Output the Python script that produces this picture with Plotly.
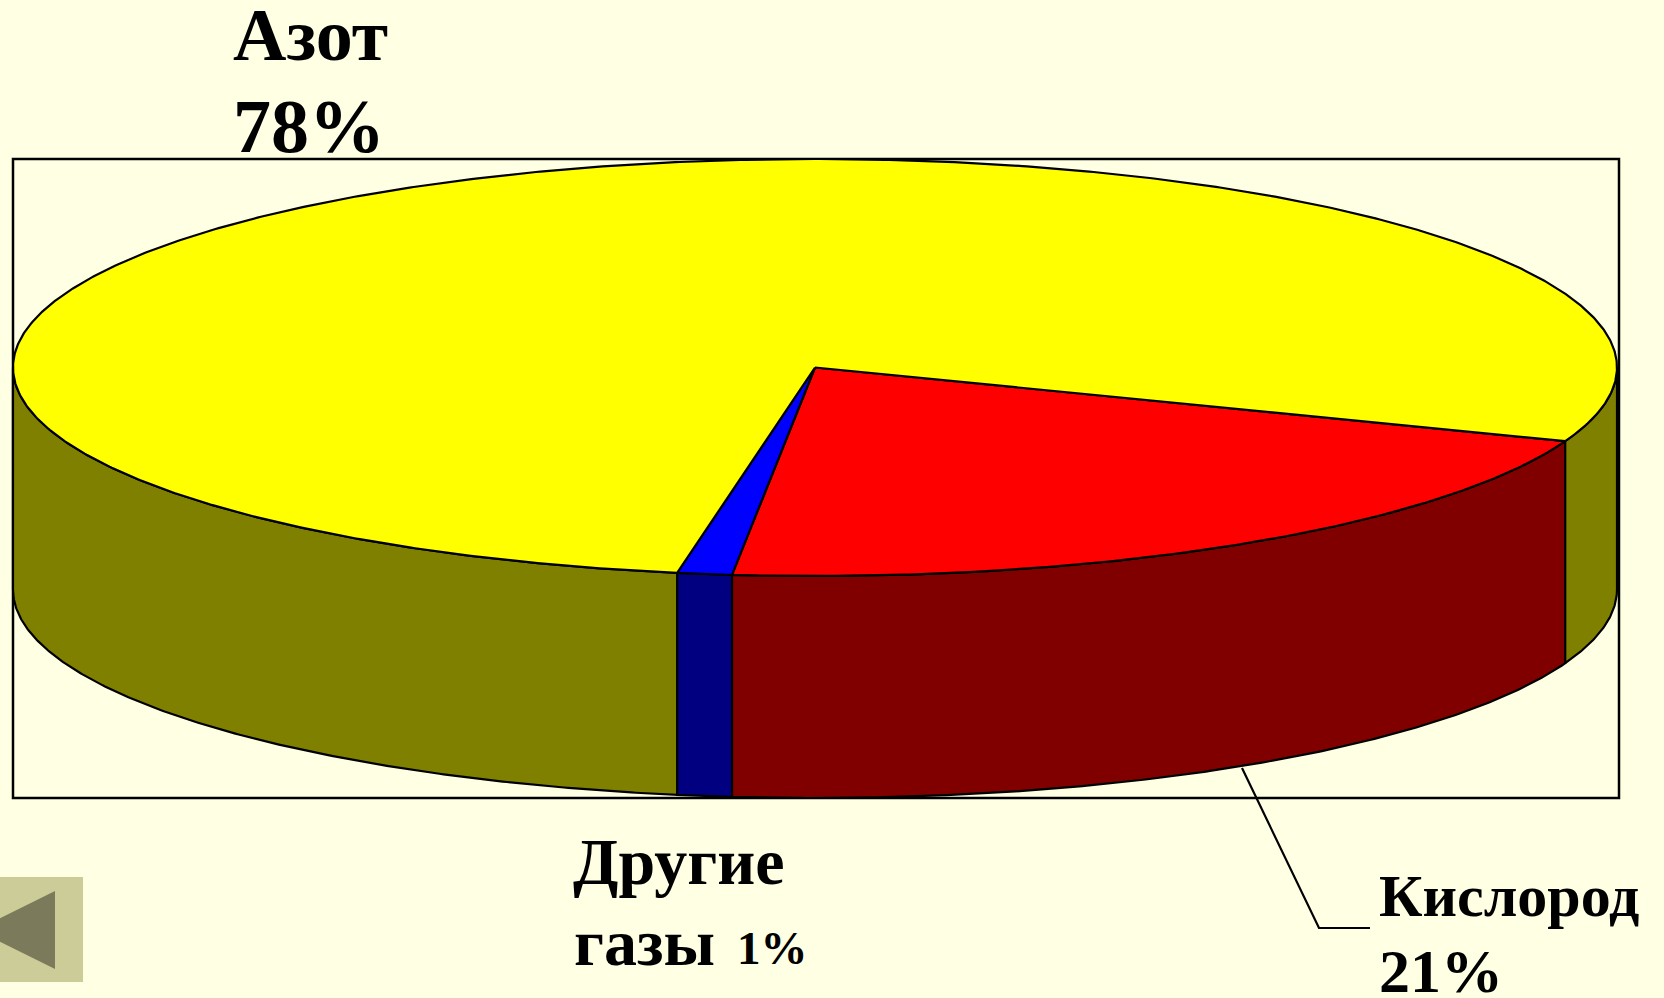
import numpy as np
import plotly.graph_objects as go

# --- data ---
categories = ["Кислород", "Другие газы", "Азот"]
values = [20.9, 1.1, 78.0]
top_colors = ["#FF0000", "#0000FF", "#FFFF00"]
side_colors = ["#800000", "#000080", "#808000"]
start_angle = 20.7

# --- geometry of the tilted pie (page pixels) ---
W, H = 1664, 998
BG = "#FFFFE3"
CX, CY, RX, RY, DEPTH = 815, 367.5, 802, 208.5, 222
SERIF = "Liberation Serif"
EDGE = 2.2


def rim(a0, a1, dy=0.0):
    t = np.radians(np.linspace(a0, a1, max(2, int(abs(a1 - a0) * 3) + 1)))
    return CX + RX * np.cos(t), CY + RY * np.sin(t) + dy


fig = go.Figure()

# wedge spans, clockwise on screen
total = sum(values)
spans = []
a = start_angle
for v in values:
    spans.append((a, a + 360 * v / total))
    a += 360 * v / total

# outer walls: only the front half (0..180 and 360..540) can be seen
for (a0, a1), col, name in zip(spans, side_colors, categories):
    for lo, hi in ((0, 180), (360, 540)):
        b0, b1 = max(a0, lo), min(a1, hi)
        if b1 <= b0:
            continue
        xt, yt = rim(b0, b1)
        xb, yb = rim(b1, b0, DEPTH)
        fig.add_trace(go.Scatter(
            x=np.r_[xt, xb, xt[0]], y=np.r_[yt, yb, yt[0]],
            mode="lines", fill="toself", fillcolor=col,
            line=dict(color="black", width=EDGE), name=name,
            hoverinfo="skip", showlegend=False))

# top face
for (a0, a1), col, name in zip(spans, top_colors, categories):
    xs, ys = rim(a0, a1)
    fig.add_trace(go.Scatter(
        x=np.r_[CX, xs, CX], y=np.r_[CY, ys, CY],
        mode="lines", fill="toself", fillcolor=col,
        line=dict(color="black", width=EDGE), name=name,
        hoverinfo="skip", showlegend=False))

# leader line of the oxygen label
fig.add_trace(go.Scatter(
    x=[1242, 1319, 1370], y=[768, 928, 928], mode="lines",
    line=dict(color="black", width=EDGE), hoverinfo="skip", showlegend=False))

shapes = [
    dict(type="rect", x0=13, y0=159, x1=1619, y1=798, layer="below",
         line=dict(color="black", width=2.5), fillcolor=BG),
    dict(type="rect", x0=0, y0=877, x1=83, y1=982, layer="below",
         line=dict(width=0), fillcolor="#CCCC99"),
    dict(type="path", path="M -24 930 L 55 891 L 55 969 Z", layer="above",
         line=dict(width=0), fillcolor="#7B7B5C"),
]


def label(text, x, baseline, size):
    # yanchor="bottom" puts the text box on the point; shift it to the baseline
    fig.add_annotation(x=x, y=baseline, text=f"<b>{text}</b>", showarrow=False,
                       xref="x", yref="y", xanchor="left", yanchor="bottom",
                       yshift=-size * 0.22, xshift=-1, borderpad=0,
                       font=dict(family=SERIF, size=size, color="black"))


label("Азот", 233, 61, 74)
label("78%", 233, 152, 76)
label("Другие", 573, 884, 66)
label("газы", 574, 965, 66)
label("1%", 737, 965, 47)
label("Кислород", 1379, 917, 60)
label("21%", 1379, 992, 62)

fig.update_layout(
    width=W, height=H, margin=dict(l=0, r=0, t=0, b=0),
    paper_bgcolor=BG, plot_bgcolor=BG, showlegend=False, shapes=shapes,
    xaxis=dict(range=[0, W], visible=False, fixedrange=True),
    yaxis=dict(range=[H, 0], visible=False, fixedrange=True),
)
fig.write_html("out.html", config={"displayModeBar": False},
               post_script="document.body.style.margin='0';document.body.style.overflow='hidden';"
                           f"document.body.style.background='{BG}';")
